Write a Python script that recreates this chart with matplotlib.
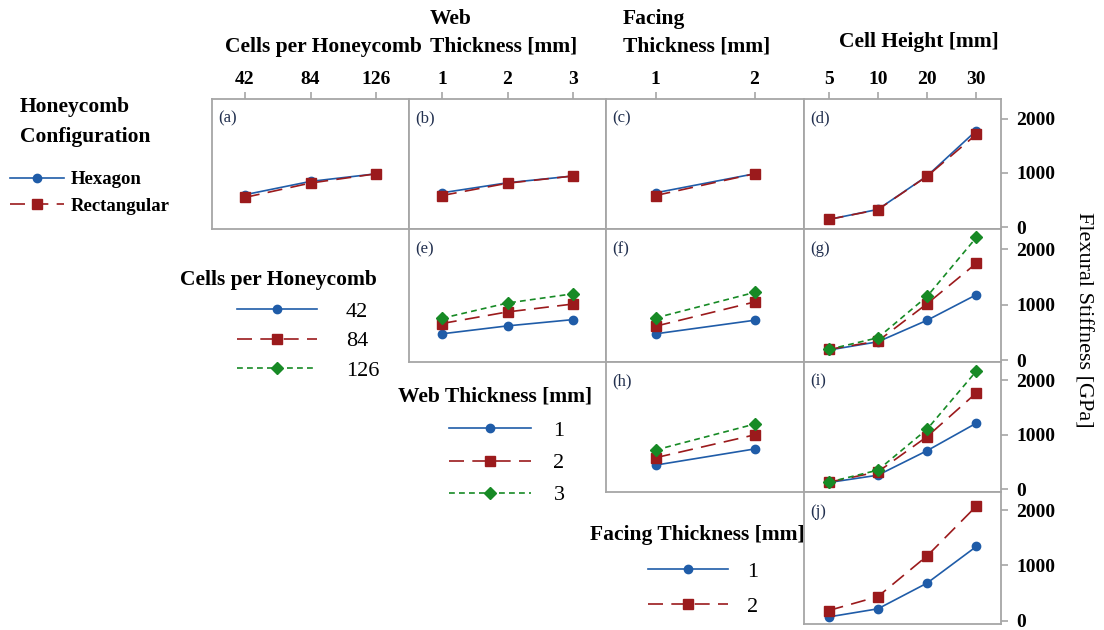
import matplotlib.pyplot as plt

# fonts: Times-like serif
plt.rcParams['font.family'] = ['Liberation Serif', 'DejaVu Serif']

# category levels (x axis of each column)
cells = ['42', '84', '126']
web = ['1', '2', '3']
facing = ['1', '2']
height = ['5', '10', '20', '30']

# row 1: honeycomb configuration (hexagon / rectangular)
a_hex = [600, 845, 985]
a_rect = [550, 815, 985]
b_hex = [635, 820, 945]
b_rect = [585, 812, 945]
c_hex = [635, 985]
c_rect = [585, 985]
d_hex = [145, 330, 945, 1780]
d_rect = [145, 325, 940, 1710]

# row 2: cells per honeycomb (42 / 84 / 126)
e_42 = [476, 619, 732]
e_84 = [661, 870, 1012]
e_126 = [755, 1030, 1196]
f_42 = [476, 720]
f_84 = [613, 1048]
f_126 = [762, 1220]
g_42 = [184, 333, 720, 1179]
g_84 = [196, 345, 1018, 1744]
g_126 = [196, 405, 1149, 2208]

# row 3: web thickness (1 / 2 / 3 mm)
h_1 = [444, 741]
h_2 = [580, 1000]
h_3 = [722, 1198]
i_1 = [124, 259, 710, 1216]
i_2 = [130, 320, 969, 1772]
i_3 = [130, 352, 1105, 2173]

# row 4: facing thickness (1 / 2 mm)
j_1 = [68, 215, 681, 1344]
j_2 = [184, 436, 1173, 2075]

y_ticks = [0, 1000, 2000]

# colours / line styles
blue = '#1f5ca8'
red = '#9b1a1c'
green = '#178a25'
styles = [
    dict(color=blue, ls='-', marker='o', ms=6),
    dict(color=red, ls=(0, (9, 5)), marker='s', ms=7),
    dict(color=green, ls=(0, (3.5, 2.5)), marker='D', ms=6.5),
]
frame = '#a6a6a6'

W, H = 1104, 630
fig = plt.figure(figsize=(W / 100, H / 100), dpi=100)

# panel grid in pixels
xe = [212, 409, 606, 804, 1001]
ye = [99, 229, 362, 492, 624]
ylims = [(-30, 2360), (-30, 2360), (-50, 2340), (-60, 2330)]


def make_panel(row, col, cats, series, tag):
    l, r = xe[col] / W, xe[col + 1] / W
    t, b = 1 - ye[row] / H, 1 - ye[row + 1] / H
    ax = fig.add_axes([l, b, r - l, t - b])
    lines = []
    for k, vals in enumerate(series):
        ln, = ax.plot(range(len(cats)), vals, lw=1.2, **styles[k])
        lines.append(ln)
    ax.set_xlim(-0.5, len(cats) - 0.5)
    ax.set_ylim(*ylims[row])
    for s in ax.spines.values():
        s.set_color(frame)
        s.set_linewidth(1.3)
    ax.tick_params(which='both', bottom=False, left=False, labelbottom=False,
                   labelleft=False, top=False, right=False)
    if row == 0:
        ax.set_xticks(range(len(cats)))
        ax.set_xticklabels(cats, fontweight='bold', fontsize=14)
        ax.tick_params(axis='x', top=True, labeltop=True, direction='out',
                       length=5, color=frame, width=1.2, pad=3)
    else:
        ax.set_xticks([])
    if col == 3:
        ax.set_yticks(y_ticks)
        ax.set_yticklabels([str(v) for v in y_ticks], fontweight='bold', fontsize=14)
        ax.tick_params(axis='y', right=True, labelright=True, direction='out',
                       length=5, color=frame, width=1.2, pad=6)
    else:
        ax.set_yticks([])
    ax.text(0.03, 0.85, tag, transform=ax.transAxes, fontsize=12,
            color='#22304f', va='center')
    return lines


cfg_lines = make_panel(0, 0, cells, [a_hex, a_rect], '(a)')
make_panel(0, 1, web, [b_hex, b_rect], '(b)')
make_panel(0, 2, facing, [c_hex, c_rect], '(c)')
make_panel(0, 3, height, [d_hex, d_rect], '(d)')

cell_lines = make_panel(1, 1, web, [e_42, e_84, e_126], '(e)')
make_panel(1, 2, facing, [f_42, f_84, f_126], '(f)')
make_panel(1, 3, height, [g_42, g_84, g_126], '(g)')

web_lines = make_panel(2, 2, facing, [h_1, h_2, h_3], '(h)')
make_panel(2, 3, height, [i_1, i_2, i_3], '(i)')

face_lines = make_panel(3, 3, height, [j_1, j_2], '(j)')


def ftext(x, y, s, **kw):
    fig.text(x / W, 1 - y / H, s, va='center', **kw)


hs = 15.5  # heading size
# column headings
ftext(225, 47, 'Cells per Honeycomb', fontsize=hs, fontweight='bold')
ftext(430, 19, 'Web', fontsize=hs, fontweight='bold')
ftext(430, 47, 'Thickness [mm]', fontsize=hs, fontweight='bold')
ftext(623, 19, 'Facing', fontsize=hs, fontweight='bold')
ftext(623, 47, 'Thickness [mm]', fontsize=hs, fontweight='bold')
ftext(839, 42, 'Cell Height [mm]', fontsize=hs, fontweight='bold')

# y axis label
ftext(1083, 320, 'Flexural Stiffness [GPa]', fontsize=16, rotation=-90, ha='center')

# legend titles
ftext(20, 107, 'Honeycomb', fontsize=hs, fontweight='bold')
ftext(20, 137, 'Configuration', fontsize=hs, fontweight='bold')
ftext(180, 280, 'Cells per Honeycomb', fontsize=hs, fontweight='bold')
ftext(398, 396, 'Web Thickness [mm]', fontsize=hs, fontweight='bold')
ftext(590, 535, 'Facing Thickness [mm]', fontsize=hs, fontweight='bold')


def add_legend(handles, labels, x, y, size, weight, hlen, tpad, lspace):
    fig.legend(handles, labels, loc='center left', bbox_to_anchor=(x / W, 1 - y / H),
               frameon=False, borderpad=0, borderaxespad=0, handlelength=hlen,
               handletextpad=tpad, labelspacing=lspace, numpoints=1,
               prop=dict(size=size, weight=weight))


add_legend(cfg_lines, ['Hexagon', 'Rectangular'], 10, 193, 13.5, 'bold', 2.9, 0.35, 0.5)
add_legend(cell_lines, cells, 237, 341, 16, 'normal', 3.6, 1.3, 0.4)
add_legend(web_lines, web, 449, 463, 16, 'normal', 3.7, 1.0, 0.52)
add_legend(face_lines, facing, 648, 589, 16, 'normal', 3.6, 0.85, 0.66)

plt.savefig('out.png', dpi=100)
